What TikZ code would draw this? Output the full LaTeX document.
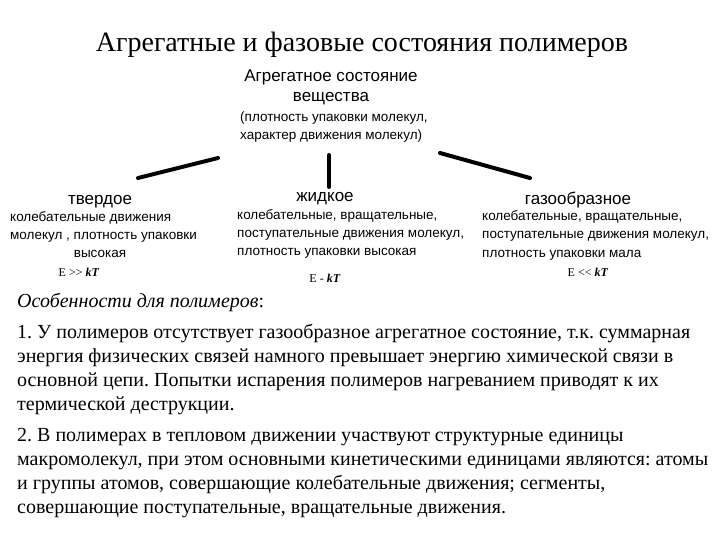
\documentclass[tikz,border=0pt]{standalone}
\usepackage{fontspec}
\setmainfont{Liberation Serif}
\setsansfont{Liberation Sans}
\usetikzlibrary{positioning}
\frenchspacing

\begin{document}
\begin{tikzpicture}[
  x=1pt, y=-1pt,
  title/.style={font=\fontsize{28}{32}\selectfont, anchor=base, inner sep=0pt},
  head/.style={font=\sffamily\fontsize{17}{20}\selectfont, anchor=base, inner sep=0pt},
  desc/.style={font=\sffamily\fontsize{13.5}{18}\selectfont, align=left, anchor=base west, inner sep=0pt},
  energy/.style={font=\fontsize{12}{14}\selectfont, anchor=base, inner sep=0pt},
  para/.style={font=\fontsize{20}{24}\selectfont, align=left, anchor=base west, inner sep=0pt},
  stroke/.style={line width=4pt, line cap=round, draw=black}
]
\useasboundingbox[fill=white] (0,0) rectangle (720,540);

% Title
\node[title] (title) at (362,52) {Агрегатные и фазовые состояния полимеров};

% Root of the scheme (base = last line)
\node[head, align=center] (aggr) at (331,102) {Агрегатное состояние\\вещества};
\node[desc] (aggrnote) at (240,140) {(плотность упаковки молекул,\\характер движения молекул)};

% Branches
\coordinate (lefttop) at (218,158);
\coordinate (leftbot) at (138,178);
\coordinate (midtop) at (329,155);
\coordinate (midbot) at (329,187);
\coordinate (righttop) at (440,153);
\coordinate (rightbot) at (530,178);
\draw[stroke] (lefttop) -- (leftbot);
\draw[stroke] (midtop) -- (midbot);
\draw[stroke] (righttop) -- (rightbot);

% Solid state
\node[head] (solid) at (100,205) {твердое};
\node[desc] (soliddesc) at (10,240) {колебательные движения\\молекул , плотность упаковки};
\node[desc, anchor=base] (solidhigh) at (100,258) {высокая};
\node[energy] (solide) at (79,276) {E >\kern0pt> \textbf{\textit{kT}}};

% Liquid state
\node[head] (liquid) at (325,202) {жидкое};
\node[desc] (liquiddesc) at (237,255) {колебательные, вращательные,\\поступательные движения молекул,\\плотность упаковки высокая};
\node[energy] (liquide) at (325,282) {E - \textbf{\textit{kT}}};

% Gaseous state
\node[head] (gas) at (578,205) {газообразное};
\node[desc] (gasdesc) at (482,257) {колебательные, вращательные,\\поступательные движения молекул,\\плотность упаковки мала};
\node[energy] (gase) at (588,276) {E <\kern0pt< \textbf{\textit{kT}}};

% Notes for polymers
\node[para] (feat) at (17,307) {\textit{Особенности для полимеров}:};
\node[para] (point1) at (17,410) {1. У полимеров отсутствует газообразное агрегатное состояние, т.к. суммарная\\
энергия физических связей намного превышает энергию химической связи в\\
основной цепи. Попытки испарения полимеров нагреванием приводят к их\\
термической деструкции.};
\node[para] (point2) at (17,513) {2. В полимерах в тепловом движении участвуют структурные единицы\\
макромолекул, при этом основными кинетическими единицами являются: атомы\\
и группы атомов, совершающие колебательные движения; сегменты,\\
совершающие поступательные, вращательные движения.};

\end{tikzpicture}
\end{document}
